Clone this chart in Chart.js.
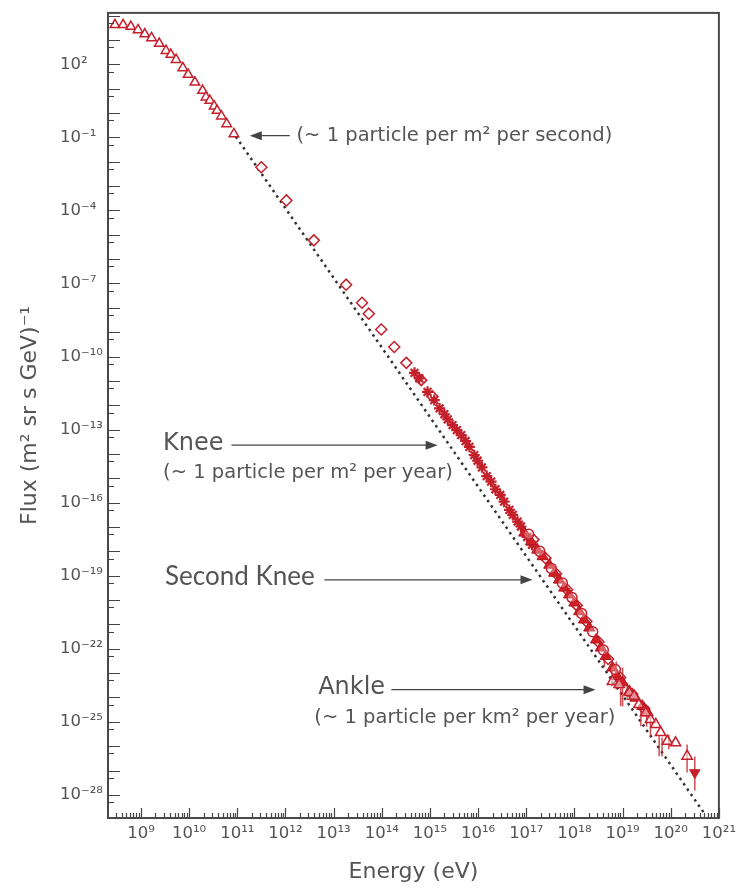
<!DOCTYPE html>
<html>
<head>
<meta charset="utf-8">
<script src="https://cdn.jsdelivr.net/npm/chart.js@4.4.1/dist/chart.umd.min.js"></script>
<style>
  html, body { margin: 0; padding: 0; background: #fff; }
  canvas { display: block; }
</style>
</head>
<body>
<canvas id="fluxChart" width="742" height="888"></canvas>
<script>
// values, stored as powers of ten: log10(E in eV), log10(flux)
const triE = [8.46, 8.63, 8.79, 8.94, 9.08, 9.22, 9.38, 9.52, 9.62, 9.73, 9.87, 9.98, 10.12, 10.28, 10.35, 10.43, 10.52, 10.58, 10.67, 10.78, 10.93];
const triF = [3.62, 3.62, 3.55, 3.41, 3.24, 3.08, 2.85, 2.56, 2.40, 2.19, 1.85, 1.58, 1.26, 0.92, 0.65, 0.51, 0.28, 0.10, -0.13, -0.45, -0.86];

const diaE = [11.50, 12.02, 12.59, 13.26, 13.59, 13.73, 13.99, 14.26, 14.51, 14.82, 15.05];
const diaF = [-2.23, -3.59, -5.23, -7.05, -7.79, -8.24, -8.89, -9.61, -10.26, -10.97, -11.63];

const starE = [14.68, 14.78, 14.95, 15.09, 15.20, 15.30, 15.37, 15.47, 15.56, 15.65, 15.74, 15.82, 15.92, 15.99, 16.08, 16.18, 16.27, 16.36, 16.46, 16.54, 16.65, 16.72, 16.82, 16.89, 17.02, 17.12];
const starF = [-10.67, -10.90, -11.45, -11.79, -12.13, -12.37, -12.58, -12.82, -13.02, -13.23, -13.47, -13.71, -14.05, -14.28, -14.55, -14.91, -15.14, -15.45, -15.68, -15.96, -16.30, -16.50, -16.78, -16.98, -17.41, -17.73];

const fillTriE = [16.96, 17.10, 17.23, 17.34, 17.48, 17.58, 17.68, 17.79, 17.89, 18.00, 18.10, 18.20, 18.31, 18.45, 18.55, 18.65, 18.79, 18.89, 19.00, 19.14, 19.27, 19.41, 19.52];
const fillTriF = [-17.24, -17.60, -17.94, -18.21, -18.56, -18.89, -19.17, -19.50, -19.78, -20.11, -20.47, -20.81, -21.14, -21.63, -21.96, -22.31, -22.78, -23.13, -23.39, -23.75, -24.02, -24.36, -24.62];

const circE = [17.05, 17.28, 17.52, 17.75, 17.95, 18.15, 18.38, 18.60, 18.85];
const circF = [-17.30, -18.00, -18.70, -19.30, -19.90, -20.55, -21.30, -22.05, -22.85];

const diamOpenE = [17.15, 17.40, 17.62, 17.85, 18.05, 18.25, 18.50, 18.70, 18.95, 19.20, 19.45];
const diamOpenF = [-17.52, -18.28, -18.92, -19.58, -20.22, -20.88, -21.72, -22.42, -23.18, -23.86, -24.46];

const openTriE = [18.79, 18.93, 19.14, 19.24, 19.34, 19.48, 19.58, 19.69, 19.79, 19.93, 20.10, 20.34];
const openTriF = [-23.34, -23.47, -23.80, -23.95, -24.29, -24.63, -24.91, -25.11, -25.44, -25.80, -25.86, -26.41];

const downE = [20.50];
const downF = [-27.09];

const errE = [18.62, 18.78, 18.87, 19.00, 18.96, 19.10, 19.38, 19.50, 19.58, 19.76, 19.82, 19.96, 20.34, 20.50];
const errLo = [-22.75, -23.54, -23.67, -24.36, -24.36, -24.10, -25.18, -25.20, -25.61, -26.41, -26.42, -26.13, -27.08, -27.82];
const errHi = [-21.95, -22.72, -22.52, -22.77, -23.54, -23.40, -24.36, -24.45, -24.77, -25.59, -25.64, -25.52, -25.93, -26.42];

// dotted power-law guide, end points
const fitE = [10.97, 20.71];
const fitF = [-0.97, -28.80];

const red = '#c4202b';
const grey = '#555';
const font = '"DejaVu Sans", sans-serif';

const sup = { '0': '⁰', '1': '¹', '2': '²', '3': '³', '4': '⁴', '5': '⁵', '6': '⁶', '7': '⁷', '8': '⁸', '9': '⁹', '-': '⁻' };
function pow10Label(n) {
  return '10' + String(n).split('').map(c => sup[c]).join('');
}
function isDecade(v) {
  const n = Math.round(Math.log10(v));
  return Math.abs(v / 10 ** n - 1) < 1e-9 ? n : null;
}
function pts(es, fs) {
  return es.map((e, i) => ({ x: 10 ** e, y: 10 ** fs[i] }));
}

const errPts = [];
for (let i = 0; i < errE.length; i++) {
  errPts.push({ x: 10 ** errE[i], y: 10 ** errLo[i] });
  errPts.push({ x: 10 ** errE[i], y: 10 ** errHi[i] });
  errPts.push({ x: 10 ** errE[i], y: null });
}

// annotation text and arrows, placed in data coordinates (log10 values)
const notes = [
  { text: '(~ 1 particle per m² per second)', e: 12.23, f: -0.93, size: 19.5, family: font },
  { text: 'Knee', e: 9.46, f: -13.57, size: 24, family: font },
  { text: '(~ 1 particle per m² per year)', e: 9.46, f: -14.80, size: 19.5, family: font },
  { text: 'Second Knee', e: 9.50, f: -19.03, size: 26, family: 'Lato, sans-serif' },
  { text: 'Ankle', e: 12.68, f: -23.61, size: 24, family: font },
  { text: '(~ 1 particle per km² per year)', e: 12.60, f: -24.84, size: 19.5, family: font }
];
const arrows = [
  { from: 12.09, to: 11.26, f: -0.93 },
  { from: 10.88, to: 15.16, f: -13.64 },
  { from: 12.81, to: 17.13, f: -19.17 },
  { from: 14.20, to: 18.44, f: -23.68 }
];

const decor = {
  id: 'decor',
  afterDraw(chart) {
    const { ctx, chartArea: a, scales: { x, y } } = chart;
    ctx.save();
    ctx.strokeStyle = '#444';
    ctx.lineWidth = 1.2;
    ctx.beginPath();
    x.ticks.forEach(t => {
      const px = Math.round(x.getPixelForValue(t.value)) + 0.5;
      const len = isDecade(t.value) !== null ? 10 : 5;
      ctx.moveTo(px, a.bottom);
      ctx.lineTo(px, a.bottom - len);
    });
    y.ticks.forEach(t => {
      const py = Math.round(y.getPixelForValue(t.value)) + 0.5;
      const len = isDecade(t.value) !== null ? 12 : 6;
      ctx.moveTo(a.left, py);
      ctx.lineTo(a.left + len, py);
    });
    ctx.stroke();

    ctx.lineWidth = 2;
    ctx.strokeStyle = '#4a4a4a';
    ctx.strokeRect(a.left, a.top, a.right - a.left, a.bottom - a.top);

    ctx.fillStyle = grey;
    ctx.textBaseline = 'middle';
    ctx.textAlign = 'left';
    notes.forEach(n => {
      ctx.font = n.size + 'px ' + n.family;
      ctx.fillText(n.text, x.getPixelForValue(10 ** n.e), y.getPixelForValue(10 ** n.f));
    });

    ctx.strokeStyle = '#444';
    ctx.fillStyle = '#444';
    ctx.lineWidth = 1.4;
    arrows.forEach(ar => {
      const x1 = x.getPixelForValue(10 ** ar.from);
      const x2 = x.getPixelForValue(10 ** ar.to);
      const py = y.getPixelForValue(10 ** ar.f);
      const dir = Math.sign(x2 - x1);
      ctx.beginPath();
      ctx.moveTo(x1, py);
      ctx.lineTo(x2 - dir * 8, py);
      ctx.stroke();
      ctx.beginPath();
      ctx.moveTo(x2, py);
      ctx.lineTo(x2 - dir * 12, py - 4.5);
      ctx.lineTo(x2 - dir * 12, py + 4.5);
      ctx.closePath();
      ctx.fill();
    });
    ctx.restore();
  }
};

new Chart(document.getElementById('fluxChart'), {
  type: 'scatter',
  data: {
    datasets: [
      { data: pts(downE, downF), pointStyle: 'triangle', rotation: 180, pointRadius: 6, backgroundColor: red, borderColor: red, borderWidth: 1 },
      { data: pts(openTriE, openTriF), pointStyle: 'triangle', pointRadius: 6, backgroundColor: 'rgba(255,255,255,0.5)', borderColor: red, borderWidth: 1.5 },
      { data: pts(circE, circF), pointStyle: 'circle', pointRadius: 5, backgroundColor: 'rgba(255,255,255,0.3)', borderColor: red, borderWidth: 1.5 },
      { data: pts(fillTriE, fillTriF), pointStyle: 'triangle', pointRadius: 6.5, backgroundColor: '#d41e26', borderColor: '#b0151d', borderWidth: 1 },
      { data: pts(diamOpenE, diamOpenF), pointStyle: 'rectRot', pointRadius: 5.5, backgroundColor: 'rgba(255,255,255,0.3)', borderColor: red, borderWidth: 1.5 },
      { data: pts(starE, starF), pointStyle: 'star', pointRadius: 5.5, borderColor: red, borderWidth: 2.2 },
      { data: pts(diaE, diaF), pointStyle: 'rectRot', pointRadius: 5.5, backgroundColor: '#fff', borderColor: red, borderWidth: 1.5 },
      { data: pts(triE, triF), pointStyle: 'triangle', pointRadius: 5.5, backgroundColor: '#fff', borderColor: red, borderWidth: 1.5 },
      { data: errPts, showLine: true, spanGaps: false, pointRadius: 0, borderColor: 'rgba(196,32,43,0.8)', borderWidth: 1.5 },
      { data: pts(fitE, fitF), showLine: true, pointRadius: 0, borderColor: '#333', borderWidth: 2.5, borderDash: [2.5, 4] }
    ]
  },
  options: {
    responsive: false,
    animation: false,
    layout: { padding: { left: 0, right: 22, top: 12, bottom: 0 } },
    plugins: { legend: { display: false }, tooltip: { enabled: false } },
    scales: {
      x: {
        type: 'logarithmic',
        min: 10 ** 8.316,
        max: 1e21,
        afterBuildTicks(scale) {
          const t = [];
          for (let d = 8; d <= 20; d++) {
            for (let m = 1; m <= 9; m++) {
              const v = m * 10 ** d;
              if (v >= scale.min && v <= scale.max) t.push({ value: v });
            }
          }
          t.push({ value: 1e21 });
          scale.ticks = t;
        },
        afterFit(scale) { scale.height = 70; },
        grid: { display: false, drawTicks: false },
        border: { display: false },
        ticks: {
          autoSkip: false,
          maxRotation: 0,
          padding: 6,
          color: grey,
          font: { family: font, size: 16.5 },
          callback(v) {
            const n = isDecade(v);
            return n !== null ? pow10Label(n) : '';
          }
        },
        title: { display: true, text: 'Energy (eV)', color: grey, font: { family: font, size: 22 }, padding: { top: 0, bottom: 3 } }
      },
      y: {
        type: 'logarithmic',
        position: 'left',
        weight: 0,
        min: 10 ** -28.95,
        max: 10 ** 4.11,
        afterBuildTicks(scale) {
          const t = [];
          for (let d = -29; d <= 4; d++) {
            for (const m of [1, 5]) {
              const v = m * 10 ** d;
              if (v >= scale.min && v <= scale.max) t.push({ value: v });
            }
          }
          scale.ticks = t;
        },
        afterFit(scale) { scale.width = 48; },
        grid: { display: false, drawTicks: false },
        border: { display: false },
        ticks: {
          autoSkip: false,
          crossAlign: 'far',
          color: grey,
          font: { family: font, size: 16.5 },
          callback(v) {
            const n = isDecade(v);
            return n !== null && (n - 2) % 3 === 0 ? pow10Label(n) : '';
          }
        }
      },
      yTitle: {
        type: 'linear',
        position: 'left',
        weight: 1,
        display: true,
        afterFit(scale) { scale.width = 60; },
        grid: { display: false, drawTicks: false },
        border: { display: false },
        ticks: { display: false },
        title: { display: true, text: 'Flux (m² sr s GeV)⁻¹', color: grey, font: { family: font, size: 22 }, padding: { top: 17, bottom: 0 } }
      }
    }
  },
  plugins: [decor]
});
</script>
</body>
</html>
